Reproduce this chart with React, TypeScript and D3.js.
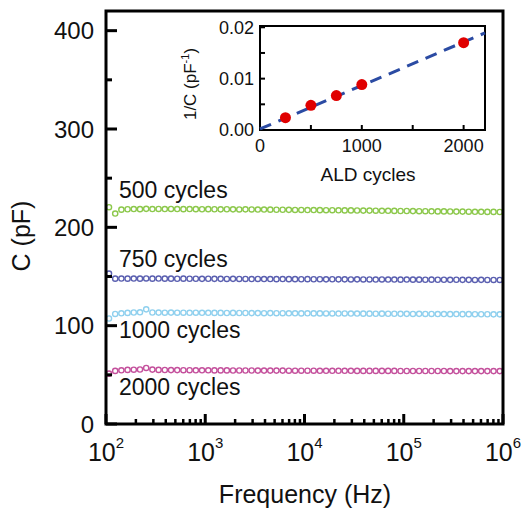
import React from "react";
import * as d3 from "d3";

// Frequency sweep (Hz)
const freqs = [
  107.2, 123.8, 142.9, 165.0, 190.5, 220.1, 254.1, 293.4, 338.8, 391.3, 451.9, 521.8, 602.5, 695.8, 803.5, 927.9,
  1072, 1238, 1429, 1650, 1905, 2201, 2541, 2934, 3388, 3913, 4519, 5218, 6025, 6958, 8035, 9279,
  10720, 12380, 14290, 16500, 19050, 22010, 25410, 29340, 33880, 39130, 45190, 52180, 60250, 69580, 80350, 92790,
  107200, 123800, 142900, 165000, 190500, 220100, 254100, 293400, 338800, 391300, 451900, 521800, 602500, 695800, 803500, 927900,
];

const c500 = [
  220.5, 214.0, 218.0, 218.4, 218.6, 218.5, 218.8, 218.6, 218.7, 218.6, 218.7, 218.6, 218.5, 218.6, 218.5, 218.4,
  218.5, 218.4, 218.3, 218.4, 218.3, 218.2, 218.3, 218.2, 218.1, 218.1, 218.0, 217.9, 217.9, 217.8, 217.7, 217.7,
  217.6, 217.6, 217.5, 217.4, 217.4, 217.3, 217.2, 217.2, 217.1, 217.0, 217.0, 216.9, 216.8, 216.8, 216.7, 216.6,
  216.6, 216.5, 216.4, 216.4, 216.3, 216.2, 216.2, 216.1, 216.0, 216.0, 215.9, 215.8, 215.8, 215.7, 215.7, 215.6,
];
const c750 = [
  153.0, 147.8, 147.9, 147.8, 147.9, 147.8, 148.0, 147.8, 147.9, 147.8, 147.8, 147.7, 147.8, 147.7, 147.7, 147.6,
  147.7, 147.6, 147.6, 147.5, 147.6, 147.5, 147.5, 147.4, 147.5, 147.4, 147.4, 147.3, 147.4, 147.3, 147.3, 147.2,
  147.3, 147.2, 147.2, 147.1, 147.2, 147.1, 147.1, 147.0, 147.1, 147.0, 147.0, 146.9, 147.0, 146.9, 146.9, 146.8,
  146.9, 146.8, 146.8, 146.7, 146.8, 146.7, 146.7, 146.6, 146.7, 146.6, 146.6, 146.5, 146.6, 146.5, 146.5, 146.5,
];
const c1000 = [
  107.3, 111.9, 112.6, 113.0, 113.4, 113.6, 116.6, 113.4, 113.3, 113.2, 113.3, 113.2, 113.2, 113.1, 113.2, 113.1,
  113.1, 113.0, 113.0, 112.9, 113.0, 112.9, 112.9, 112.8, 112.8, 112.7, 112.8, 112.7, 112.7, 112.6, 112.6, 112.5,
  112.6, 112.5, 112.5, 112.4, 112.4, 112.3, 112.4, 112.3, 112.3, 112.2, 112.2, 112.1, 112.2, 112.1, 112.1, 112.0,
  112.0, 111.9, 112.0, 111.9, 111.9, 111.8, 111.8, 111.7, 111.8, 111.7, 111.7, 111.6, 111.6, 111.6, 111.5, 111.5,
];
const c2000 = [
  51.2, 54.0, 54.6, 55.0, 55.2, 55.4, 57.0, 55.3, 55.0, 54.9, 54.8, 54.8, 54.7, 54.7, 54.6, 54.6,
  54.6, 54.5, 54.5, 54.5, 54.4, 54.4, 54.4, 54.4, 54.3, 54.3, 54.3, 54.3, 54.3, 54.2, 54.2, 54.2,
  54.2, 54.2, 54.1, 54.1, 54.1, 54.1, 54.1, 54.1, 54.0, 54.0, 54.0, 54.0, 54.0, 54.0, 54.0, 53.9,
  53.9, 53.9, 53.9, 53.9, 53.9, 53.9, 53.9, 53.8, 53.8, 53.8, 53.8, 53.8, 53.8, 53.8, 53.8, 53.8,
];

const seriesNames = ["500 cycles", "750 cycles", "1000 cycles", "2000 cycles"];
const seriesValues = [c500, c750, c1000, c2000];
const seriesColors = ["#8cc84b", "#5a5fb0", "#8fd0ee", "#c4509c"];

const yTicks = [0, 100, 200, 300, 400];
const yMinorTicks = [50, 150, 250, 350];
const xDecades = [2, 3, 4, 5, 6];

// Inset data: 1/C vs ALD cycles
const aldCycles = [250, 500, 750, 1000, 2000];
const invC = [0.0024, 0.0048, 0.0067, 0.00885, 0.0170];
const fitX = [0, 2210];
const fitY = [0.0002, 0.0189];
const insetYTicks = [0, 0.01, 0.02];
const insetYMinor = [0.005, 0.015];
const insetXTicks = [0, 1000, 2000];
const insetXMinor = [500, 1500];

const FONT = "'Liberation Sans', Arial, Helvetica, sans-serif";

export default function App() {
  const L = 106, R = 503, T = 11, B = 424;
  const x = d3.scaleLog().domain([100, 1e6]).range([L, R]);
  const y = d3.scaleLinear().domain([0, 420]).range([B, T]);

  const minorX: number[] = [];
  for (let d = 2; d < 6; d++) for (let m = 2; m <= 9; m++) minorX.push(m * Math.pow(10, d));

  const iL = 260, iR = 485, iT = 26, iB = 130;
  const ix = d3.scaleLinear().domain([0, 2210]).range([iL, iR]);
  const iy = d3.scaleLinear().domain([0, 0.02025]).range([iB, iT]);
  const fitLine = d3.line<number>().x((_, i) => ix(fitX[i])).y((d) => iy(d));

  // label anchors (pixel offsets relative to plot)
  const labelY = [198, 267, 337.5, 395];

  return (
    <svg width={522} height={512} style={{ position: "absolute", left: 0, top: 0, background: "#fff" }} fontFamily={FONT}>
      {/* data */}
      {seriesValues.map((vals, si) => (
        <g key={si}>
          {vals.map((v, i) => (
            <circle key={i} cx={x(freqs[i])} cy={y(v)} r={2.6} fill="none" stroke={seriesColors[si]} strokeWidth={1.4} />
          ))}
        </g>
      ))}
      {seriesNames.map((n, i) => (
        <text key={n} x={119} y={labelY[i]} fontSize={23} fill="#111">{n}</text>
      ))}

      {/* frame */}
      <rect x={L} y={T} width={R - L} height={B - T} fill="none" stroke="#000" strokeWidth={3} />
      {yTicks.map((t) => (
        <g key={t}>
          <line x1={L} x2={L + 11} y1={y(t)} y2={y(t)} stroke="#000" strokeWidth={3} />
          <text x={94} y={y(t)} dy="0.36em" textAnchor="end" fontSize={24} fill="#111">{t}</text>
        </g>
      ))}
      {yMinorTicks.map((t) => (
        <line key={t} x1={L} x2={L + 6} y1={y(t)} y2={y(t)} stroke="#000" strokeWidth={3} />
      ))}
      {xDecades.map((d) => (
        <g key={d}>
          <line x1={x(Math.pow(10, d))} x2={x(Math.pow(10, d))} y1={B} y2={B - 10} stroke="#000" strokeWidth={3} />
          <text x={x(Math.pow(10, d))} y={461} textAnchor="middle" fontSize={25} fill="#111">
            10<tspan fontSize={15} dy={-13}>{d}</tspan>
          </text>
        </g>
      ))}
      {minorX.map((f) => (
        <line key={f} x1={x(f)} x2={x(f)} y1={B} y2={B - 5} stroke="#000" strokeWidth={2.5} />
      ))}
      <text x={305} y={503} textAnchor="middle" fontSize={25} fill="#111">Frequency (Hz)</text>
      <text transform="translate(30,236) rotate(-90)" textAnchor="middle" fontSize={25} fill="#111">C (pF)</text>

      {/* inset */}
      <rect x={iL} y={iT} width={iR - iL} height={iB - iT} fill="#fff" stroke="#000" strokeWidth={2} />
      {insetYTicks.concat(insetYMinor).map((t) => (
        <line key={t} x1={iL} x2={iL + 5} y1={iy(t)} y2={iy(t)} stroke="#000" strokeWidth={2} />
      ))}
      {insetXTicks.concat(insetXMinor).map((t) => (
        <line key={t} x1={ix(t)} x2={ix(t)} y1={iB} y2={iB - 5} stroke="#000" strokeWidth={2} />
      ))}
      {insetYTicks.map((t) => (
        <text key={t} x={254} y={iy(t)} dy="0.36em" textAnchor="end" fontSize={18} fill="#111">{t.toFixed(2)}</text>
      ))}
      {insetXTicks.map((t) => (
        <text key={t} x={ix(t)} y={152} textAnchor="middle" fontSize={18} fill="#111">{t}</text>
      ))}
      <text x={368} y={181} textAnchor="middle" fontSize={19} fill="#111">ALD cycles</text>
      <text transform="translate(196,84) rotate(-90)" textAnchor="middle" fontSize={17} fill="#111">
        1/C (pF<tspan fontSize={11} dy={-7}>-1</tspan><tspan dy={7}>)</tspan>
      </text>
      <path d={fitLine(fitY) || ""} fill="none" stroke="#2b4ba3" strokeWidth={3} strokeDasharray="12 8" />
      {aldCycles.map((c, i) => (
        <circle key={c} cx={ix(c)} cy={iy(invC[i])} r={5.5} fill="#e00000" />
      ))}
    </svg>
  );
}
